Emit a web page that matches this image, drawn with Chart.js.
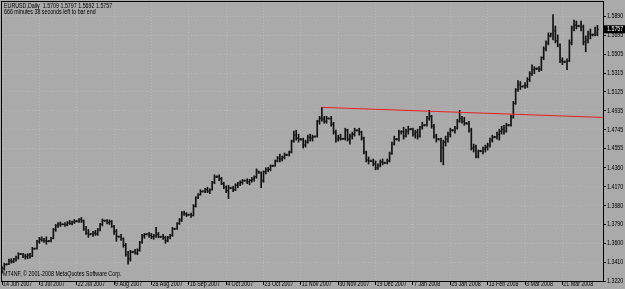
<!DOCTYPE html>
<html lang="en">
<head>
<meta charset="UTF-8" />
<title>EURUSD,Daily</title>
<script src="https://cdn.jsdelivr.net/npm/chart.js"></script>
<style>
  html, body { margin: 0; padding: 0; background: #aaaaaa; }
  #wrap { width: 625px; height: 289px; }
</style>
</head>
<body>
<div id="wrap"><canvas id="chart" width="625" height="289"></canvas></div>
<script>
const symbolTitle = 'EURUSD,Daily';
const barTimer = '666 minutes 38 seconds left to bar end';
const copyright = 'MT4NF, \u00a9 2001-2008 MetaQuotes Software Corp.';

// one label every 16 daily bars (broker has Sunday bars)
const dateLabels = ['14 Jun 2007', '3 Jul 2007', '22 Jul 2007', '9 Aug 2007', '28 Aug 2007', '16 Sep 2007',
  '4 Oct 2007', '23 Oct 2007', '11 Nov 2007', '30 Nov 2007', '19 Dec 2007', '7 Jan 2008', '25 Jan 2008',
  '13 Feb 2008', '3 Mar 2008', '21 Mar 2008'];
const labelStep = 16;

const priceTicks = [1.3220, 1.3410, 1.3600, 1.3790, 1.3980, 1.4170, 1.4360, 1.4555, 1.4745, 1.4935,
  1.5125, 1.5315, 1.5505, 1.5695, 1.5890];

const opens = [
  1.3320,1.3345,1.3388,1.3390,1.3425,1.3415,1.3440,1.3455,1.3492,1.3490,
  1.3470,1.3465,1.3480,1.3470,1.3545,1.3548,1.3615,1.3640,1.3630,1.3625,
  1.3622,1.3625,1.3650,1.3740,1.3775,1.3795,1.3792,1.3790,1.3785,1.3805,
  1.3800,1.3815,1.3822,1.3825,1.3840,1.3825,1.3745,1.3700,1.3692,1.3695,
  1.3705,1.3695,1.3735,1.3790,1.3828,1.3830,1.3810,1.3820,1.3770,1.3720,
  1.3668,1.3665,1.3645,1.3580,1.3490,1.3445,1.3512,1.3515,1.3500,1.3530,
  1.3610,1.3675,1.3690,1.3692,1.3680,1.3665,1.3675,1.3690,1.3665,1.3668,
  1.3655,1.3625,1.3660,1.3680,1.3745,1.3748,1.3800,1.3835,1.3905,1.3895,
  1.3887,1.3890,1.3880,1.3975,1.4060,1.4090,1.4122,1.4125,1.4140,1.4125,
  1.4140,1.4215,1.4270,1.4272,1.4250,1.4200,1.4165,1.4130,1.4158,1.4155,
  1.4140,1.4185,1.4200,1.4215,1.4232,1.4230,1.4220,1.4235,1.4245,1.4270,
  1.4320,1.4310,1.4230,1.4320,1.4340,1.4345,1.4380,1.4382,1.4430,1.4460,
  1.4450,1.4465,1.4490,1.4492,1.4520,1.4630,1.4690,1.4660,1.4650,1.4645,
  1.4590,1.4620,1.4670,1.4660,1.4675,1.4678,1.4830,1.4860,1.4850,1.4830,
  1.4858,1.4855,1.4800,1.4720,1.4650,1.4660,1.4652,1.4655,1.4740,1.4650,
  1.4680,1.4700,1.4738,1.4735,1.4720,1.4660,1.4520,1.4440,1.4430,1.4428,
  1.4400,1.4360,1.4385,1.4420,1.4410,1.4412,1.4430,1.4505,1.4600,1.4650,
  1.4648,1.4720,1.4725,1.4680,1.4730,1.4750,1.4752,1.4700,1.4720,1.4680,
  1.4770,1.4790,1.4795,1.4860,1.4880,1.4780,1.4680,1.4650,1.4645,1.4560,
  1.4620,1.4650,1.4700,1.4740,1.4738,1.4760,1.4830,1.4860,1.4830,1.4810,
  1.4805,1.4740,1.4560,1.4570,1.4480,1.4530,1.4528,1.4550,1.4570,1.4590,
  1.4640,1.4670,1.4672,1.4700,1.4730,1.4750,1.4730,1.4790,1.4795,1.4870,
  1.5010,1.5150,1.5200,1.5180,1.5185,1.5190,1.5250,1.5310,1.5350,1.5360,
  1.5362,1.5355,1.5470,1.5560,1.5620,1.5690,1.5710,1.5740,1.5640,1.5600,
  1.5440,1.5430,1.5428,1.5440,1.5620,1.5770,1.5800,1.5790,1.5792,1.5780,
  1.5630,1.5650,1.5710,1.5700,1.5705,1.5709
];
const highs = [
  1.3365,1.3400,1.3395,1.3440,1.3445,1.3450,1.3470,1.3505,1.3498,1.3500,
  1.3490,1.3495,1.3500,1.3560,1.3552,1.3630,1.3660,1.3665,1.3650,1.3665,
  1.3630,1.3660,1.3750,1.3790,1.3810,1.3815,1.3798,1.3810,1.3820,1.3830,
  1.3825,1.3840,1.3830,1.3850,1.3860,1.3835,1.3770,1.3740,1.3700,1.3720,
  1.3730,1.3750,1.3800,1.3845,1.3835,1.3840,1.3835,1.3830,1.3780,1.3740,
  1.3675,1.3690,1.3655,1.3600,1.3520,1.3530,1.3520,1.3540,1.3545,1.3620,
  1.3690,1.3700,1.3698,1.3710,1.3700,1.3690,1.3760,1.3710,1.3672,1.3690,
  1.3670,1.3670,1.3690,1.3760,1.3752,1.3810,1.3850,1.3920,1.3925,1.3910,
  1.3895,1.3905,1.3990,1.4070,1.4100,1.4140,1.4130,1.4155,1.4165,1.4150,
  1.4225,1.4290,1.4280,1.4290,1.4265,1.4215,1.4180,1.4185,1.4165,1.4175,
  1.4200,1.4215,1.4230,1.4245,1.4238,1.4250,1.4245,1.4265,1.4280,1.4350,
  1.4328,1.4320,1.4330,1.4360,1.4365,1.4390,1.4388,1.4440,1.4475,1.4500,
  1.4480,1.4510,1.4498,1.4530,1.4640,1.4730,1.4740,1.4700,1.4658,1.4660,
  1.4640,1.4690,1.4700,1.4690,1.4682,1.4840,1.4880,1.4970,1.4880,1.4880,
  1.4865,1.4880,1.4820,1.4740,1.4690,1.4700,1.4660,1.4760,1.4750,1.4700,
  1.4720,1.4760,1.4745,1.4760,1.4730,1.4670,1.4530,1.4470,1.4438,1.4450,
  1.4430,1.4400,1.4440,1.4450,1.4418,1.4450,1.4520,1.4620,1.4680,1.4658,
  1.4740,1.4735,1.4770,1.4750,1.4780,1.4758,1.4760,1.4740,1.4750,1.4780,
  1.4820,1.4798,1.4880,1.4940,1.4890,1.4800,1.4700,1.4658,1.4660,1.4640,
  1.4680,1.4720,1.4760,1.4748,1.4780,1.4850,1.4940,1.4880,1.4870,1.4818,
  1.4830,1.4760,1.4600,1.4590,1.4540,1.4538,1.4570,1.4590,1.4610,1.4660,
  1.4690,1.4678,1.4720,1.4750,1.4780,1.4790,1.4810,1.4798,1.4890,1.5030,
  1.5160,1.5240,1.5230,1.5188,1.5220,1.5270,1.5330,1.5400,1.5380,1.5368,
  1.5380,1.5480,1.5580,1.5640,1.5720,1.5720,1.5905,1.5790,1.5700,1.5610,
  1.5470,1.5438,1.5460,1.5650,1.5790,1.5850,1.5840,1.5798,1.5840,1.5800,
  1.5690,1.5740,1.5760,1.5710,1.5780,1.5797
];
const lows = [
  1.3300,1.3330,1.3380,1.3385,1.3400,1.3405,1.3420,1.3440,1.3485,1.3455,
  1.3440,1.3445,1.3450,1.3465,1.3538,1.3540,1.3600,1.3620,1.3610,1.3590,
  1.3615,1.3615,1.3645,1.3720,1.3760,1.3770,1.3785,1.3770,1.3775,1.3790,
  1.3785,1.3800,1.3815,1.3810,1.3810,1.3730,1.3690,1.3660,1.3685,1.3670,
  1.3680,1.3680,1.3725,1.3775,1.3820,1.3795,1.3790,1.3760,1.3690,1.3620,
  1.3660,1.3630,1.3560,1.3470,1.3390,1.3420,1.3505,1.3490,1.3485,1.3520,
  1.3600,1.3650,1.3683,1.3660,1.3645,1.3640,1.3660,1.3655,1.3658,1.3640,
  1.3600,1.3615,1.3645,1.3670,1.3738,1.3740,1.3790,1.3820,1.3880,1.3870,
  1.3880,1.3860,1.3875,1.3965,1.4050,1.4085,1.4115,1.4110,1.4110,1.4100,
  1.4135,1.4200,1.4262,1.4230,1.4190,1.4150,1.4110,1.4050,1.4150,1.4120,
  1.4130,1.4160,1.4180,1.4195,1.4225,1.4200,1.4190,1.4215,1.4225,1.4255,
  1.4305,1.4160,1.4215,1.4300,1.4320,1.4330,1.4372,1.4375,1.4420,1.4420,
  1.4430,1.4450,1.4482,1.4480,1.4510,1.4620,1.4640,1.4620,1.4640,1.4560,
  1.4570,1.4610,1.4630,1.4630,1.4668,1.4670,1.4800,1.4830,1.4810,1.4810,
  1.4850,1.4780,1.4700,1.4620,1.4630,1.4640,1.4645,1.4640,1.4630,1.4600,
  1.4650,1.4680,1.4730,1.4690,1.4640,1.4500,1.4420,1.4400,1.4422,1.4380,
  1.4340,1.4345,1.4370,1.4390,1.4402,1.4400,1.4420,1.4495,1.4590,1.4640,
  1.4630,1.4700,1.4650,1.4670,1.4700,1.4742,1.4680,1.4660,1.4650,1.4670,
  1.4750,1.4782,1.4780,1.4840,1.4760,1.4660,1.4620,1.4640,1.4420,1.4390,
  1.4580,1.4620,1.4670,1.4730,1.4710,1.4750,1.4820,1.4810,1.4790,1.4800,
  1.4720,1.4540,1.4520,1.4460,1.4460,1.4522,1.4500,1.4520,1.4540,1.4570,
  1.4620,1.4662,1.4650,1.4640,1.4700,1.4700,1.4720,1.4782,1.4780,1.4860,
  1.5000,1.5130,1.5150,1.5172,1.5160,1.5170,1.5230,1.5290,1.5310,1.5350,
  1.5330,1.5340,1.5450,1.5540,1.5600,1.5680,1.5650,1.5620,1.5580,1.5420,
  1.5400,1.5420,1.5350,1.5430,1.5600,1.5740,1.5760,1.5782,1.5740,1.5600,
  1.5530,1.5620,1.5660,1.5690,1.5690,1.5692
];
const closes = [
  1.3345,1.3385,1.3390,1.3425,1.3415,1.3440,1.3455,1.3490,1.3490,1.3470,
  1.3465,1.3480,1.3470,1.3545,1.3548,1.3615,1.3640,1.3630,1.3625,1.3620,
  1.3625,1.3650,1.3740,1.3775,1.3795,1.3790,1.3790,1.3785,1.3805,1.3800,
  1.3815,1.3820,1.3825,1.3840,1.3825,1.3745,1.3700,1.3690,1.3695,1.3705,
  1.3695,1.3735,1.3790,1.3830,1.3830,1.3810,1.3820,1.3770,1.3720,1.3670,
  1.3665,1.3645,1.3580,1.3490,1.3445,1.3510,1.3515,1.3500,1.3530,1.3610,
  1.3675,1.3690,1.3692,1.3680,1.3665,1.3675,1.3690,1.3665,1.3668,1.3655,
  1.3625,1.3660,1.3680,1.3745,1.3748,1.3800,1.3835,1.3905,1.3895,1.3885,
  1.3890,1.3880,1.3975,1.4060,1.4090,1.4120,1.4125,1.4140,1.4125,1.4140,
  1.4215,1.4270,1.4272,1.4250,1.4200,1.4165,1.4130,1.4160,1.4155,1.4140,
  1.4185,1.4200,1.4215,1.4230,1.4230,1.4220,1.4235,1.4245,1.4270,1.4330,
  1.4310,1.4230,1.4320,1.4340,1.4345,1.4380,1.4382,1.4430,1.4460,1.4450,
  1.4465,1.4490,1.4492,1.4520,1.4630,1.4690,1.4660,1.4650,1.4645,1.4590,
  1.4620,1.4670,1.4660,1.4675,1.4678,1.4830,1.4860,1.4850,1.4830,1.4860,
  1.4855,1.4800,1.4720,1.4650,1.4660,1.4650,1.4655,1.4740,1.4650,1.4680,
  1.4700,1.4740,1.4735,1.4720,1.4660,1.4520,1.4440,1.4430,1.4428,1.4400,
  1.4360,1.4385,1.4420,1.4410,1.4412,1.4430,1.4505,1.4600,1.4650,1.4648,
  1.4720,1.4725,1.4680,1.4730,1.4750,1.4752,1.4700,1.4720,1.4680,1.4770,
  1.4790,1.4795,1.4860,1.4880,1.4780,1.4680,1.4650,1.4645,1.4560,1.4620,
  1.4650,1.4700,1.4740,1.4738,1.4760,1.4830,1.4860,1.4830,1.4810,1.4805,
  1.4740,1.4560,1.4570,1.4480,1.4530,1.4528,1.4550,1.4570,1.4590,1.4640,
  1.4670,1.4672,1.4700,1.4730,1.4750,1.4730,1.4790,1.4795,1.4870,1.5010,
  1.5150,1.5200,1.5180,1.5185,1.5190,1.5250,1.5310,1.5350,1.5360,1.5362,
  1.5355,1.5470,1.5560,1.5620,1.5690,1.5710,1.5740,1.5640,1.5600,1.5440,
  1.5430,1.5428,1.5440,1.5620,1.5770,1.5800,1.5790,1.5792,1.5780,1.5630,
  1.5650,1.5710,1.5700,1.5705,1.5730,1.5757
];

// red trend line from the November high out to the right edge
const trendX = [137, 258];
const trendY = [1.4970, 1.4868];

const fontFamily = '"Liberation Sans", Arial, sans-serif';
const squeeze = 0.76; // terminal font is narrow

function narrowText(ctx, text, x, y) {
  ctx.save();
  ctx.translate(x, y);
  ctx.scale(squeeze, 1);
  ctx.fillText(text, 0, 0);
  ctx.restore();
}

const mtPlugin = {
  id: 'mt',
  afterDatasetsDraw(chart) {
    const { ctx, chartArea: a, scales: { x, y } } = chart;
    ctx.save();
    ctx.beginPath();
    ctx.rect(a.left, a.top, a.right - a.left, a.bottom - a.top);
    ctx.clip();
    // open tick left, close tick right
    ctx.fillStyle = '#222';
    for (let i = 0; i < opens.length; i++) {
      const px = x.getPixelForValue(i);
      ctx.fillRect(px - 1.5, y.getPixelForValue(opens[i]) - 0.5, 1, 1);
      ctx.fillRect(px + 0.5, y.getPixelForValue(closes[i]) - 0.5, 1, 1);
    }
    ctx.restore();

    ctx.save();
    ctx.strokeStyle = '#000';
    ctx.lineWidth = 1;
    ctx.strokeRect(a.left - 0.5, a.top - 0.5, a.right - a.left + 1, a.bottom - a.top + 1);

    ctx.fillStyle = '#000';
    ctx.textAlign = 'left';
    ctx.textBaseline = 'middle';
    ctx.font = '7px ' + fontFamily;
    const last = closes.length - 1;
    const ohlc = [opens[last], highs[last], lows[last], closes[last]].map(v => v.toFixed(4)).join(' ');
    narrowText(ctx, symbolTitle + '  ' + ohlc, 4, 6);
    narrowText(ctx, barTimer, 4, 12.5);
    narrowText(ctx, copyright, 3, 274);

    // axis labels
    priceTicks.forEach(v => narrowText(ctx, v.toFixed(4), a.right + 4, y.getPixelForValue(v)));
    dateLabels.forEach((t, k) => narrowText(ctx, t, x.getPixelForValue(k * labelStep) + 1, 284.5));

    // current price box on the price scale
    const py = y.getPixelForValue(closes[last]);
    ctx.fillRect(a.right + 1, py - 4, 21, 8);
    ctx.fillStyle = '#fff';
    narrowText(ctx, closes[last].toFixed(4), a.right + 4, py);
    ctx.restore();
  }
};

new Chart(document.getElementById('chart'), {
  type: 'bar',
  data: {
    datasets: [
      {
        type: 'line',
        data: trendX.map((v, k) => ({ x: v, y: trendY[k] })),
        borderColor: '#e82020',
        borderWidth: 1,
        pointRadius: 0,
        order: 0
      },
      {
        data: highs.map((h, i) => ({ x: i, y: [lows[i], h] })),
        backgroundColor: '#111',
        borderWidth: 0,
        barThickness: 1,
        grouped: false,
        order: 1
      }
    ]
  },
  options: {
    responsive: false,
    animation: false,
    events: [],
    layout: { padding: { left: 2, top: 2, right: 0, bottom: 0 } },
    plugins: { legend: { display: false }, tooltip: { enabled: false } },
    scales: {
      x: {
        type: 'linear',
        offset: false,
        min: 0,
        max: 257.4,
        afterBuildTicks: s => { s.ticks = dateLabels.map((_, k) => ({ value: k * labelStep })); },
        afterFit: s => { s.height = 8; },
        border: { display: false, dash: [1, 2] },
        grid: { offset: false, color: '#bababa', tickColor: '#000', tickLength: 4, tickBorderDash: [] },
        ticks: { display: false, autoSkip: false, maxRotation: 0 }
      },
      y: {
        position: 'right',
        min: 1.3220,
        max: 1.6032,
        afterBuildTicks: s => { s.ticks = priceTicks.map(v => ({ value: v })); },
        afterFit: s => { s.width = 22; },
        border: { display: false, dash: [1, 2] },
        grid: { color: '#bababa', tickColor: '#000', tickLength: 3, tickBorderDash: [] },
        ticks: { display: false }
      }
    }
  },
  plugins: [mtPlugin]
});
</script>
</body>
</html>
